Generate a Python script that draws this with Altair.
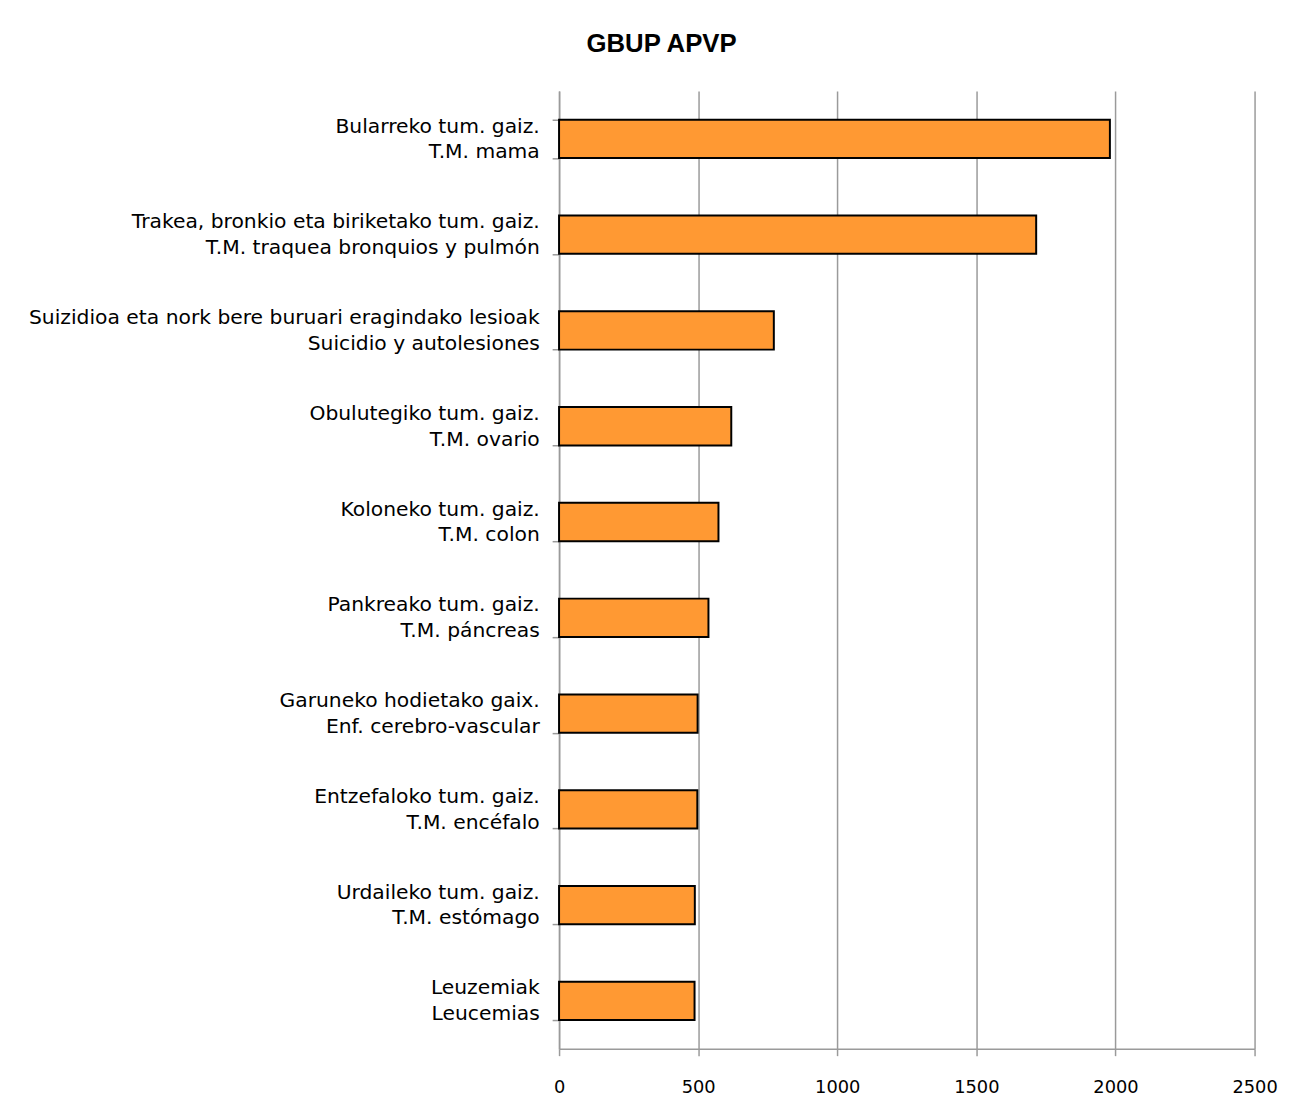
import altair as alt
import pandas as pd

labels_eu = [
    "Bularreko tum. gaiz.",
    "Trakea, bronkio eta biriketako tum. gaiz.",
    "Suizidioa eta nork bere buruari eragindako lesioak",
    "Obulutegiko tum. gaiz.",
    "Koloneko tum. gaiz.",
    "Pankreako tum. gaiz.",
    "Garuneko hodietako gaix.",
    "Entzefaloko tum. gaiz.",
    "Urdaileko tum. gaiz.",
    "Leuzemiak",
]
labels_es = [
    "T.M. mama",
    "T.M. traquea bronquios y pulmón",
    "Suicidio y autolesiones",
    "T.M. ovario",
    "T.M. colon",
    "T.M. páncreas",
    "Enf. cerebro-vascular",
    "T.M. encéfalo",
    "T.M. estómago",
    "Leucemias",
]
values = [1980, 1715, 772, 619, 573, 537, 498, 497, 488, 487]
x_ticks = [0, 500, 1000, 1500, 2000, 2500]


def centred(a, b):
    # the two lines of a label are centred on one another: the shorter
    # one gets trailing no-break spaces, as the labels are right-aligned
    n = max(len(a), len(b))
    pa = "\u00a0" * round((n - len(a)) * 0.86)
    pb = "\u00a0" * round((n - len(b)) * 0.86)
    return a + pa + "|" + b + pb


cats = [centred(a, b) for a, b in zip(labels_eu, labels_es)]
df = pd.DataFrame({"cat": cats, "value": values})

GRAY = "#9a9a9a"
LABEL_FONT = "DejaVu Sans"

chart = (
    alt.Chart(df)
    .mark_bar(color="#FF9933", stroke="#000000", strokeWidth=2)
    .encode(
        y=alt.Y(
            "cat:N",
            sort=cats,
            title=None,
            scale=alt.Scale(paddingInner=0.6, paddingOuter=0.3),
            axis=alt.Axis(
                labelExpr="split(datum.label, '|')",
                labelFont=LABEL_FONT,
                labelFontSize=20.5,
                labelLineHeight=26,
                labelColor="#000000",
                labelPadding=13,
                labelOffset=-13,
                labelLimit=700,
                tickBand="extent",
                tickSize=7,
                tickColor=GRAY,
                tickWidth=1.5,
                domainColor=GRAY,
                domainWidth=1.5,
                grid=False,
            ),
        ),
        x=alt.X(
            "value:Q",
            title=None,
            scale=alt.Scale(domain=[0, 2500], nice=False),
            axis=alt.Axis(
                values=x_ticks,
                format="d",
                labelFlush=False,
                labelFont=LABEL_FONT,
                labelFontSize=18,
                labelColor="#000000",
                labelPadding=23,
                tickSize=7,
                tickColor=GRAY,
                tickWidth=1.5,
                domainColor=GRAY,
                domainWidth=1.5,
                grid=True,
                gridColor=GRAY,
                gridWidth=1.5,
            ),
        ),
    )
    .properties(
        width=703,
        height=968,
        title=alt.TitleParams(
            "GBUP APVP",
            font="Liberation Sans",
            fontSize=26,
            fontWeight="bold",
            color="#000000",
            anchor="middle",
            frame="bounds",
            offset=24,
            dx=9,
        ),
        padding={"top": 18, "left": 20, "right": 30, "bottom": 10},
    )
    .configure_view(stroke=None)
)

chart.save("out.html", embed_options={"renderer": "svg", "actions": False})
